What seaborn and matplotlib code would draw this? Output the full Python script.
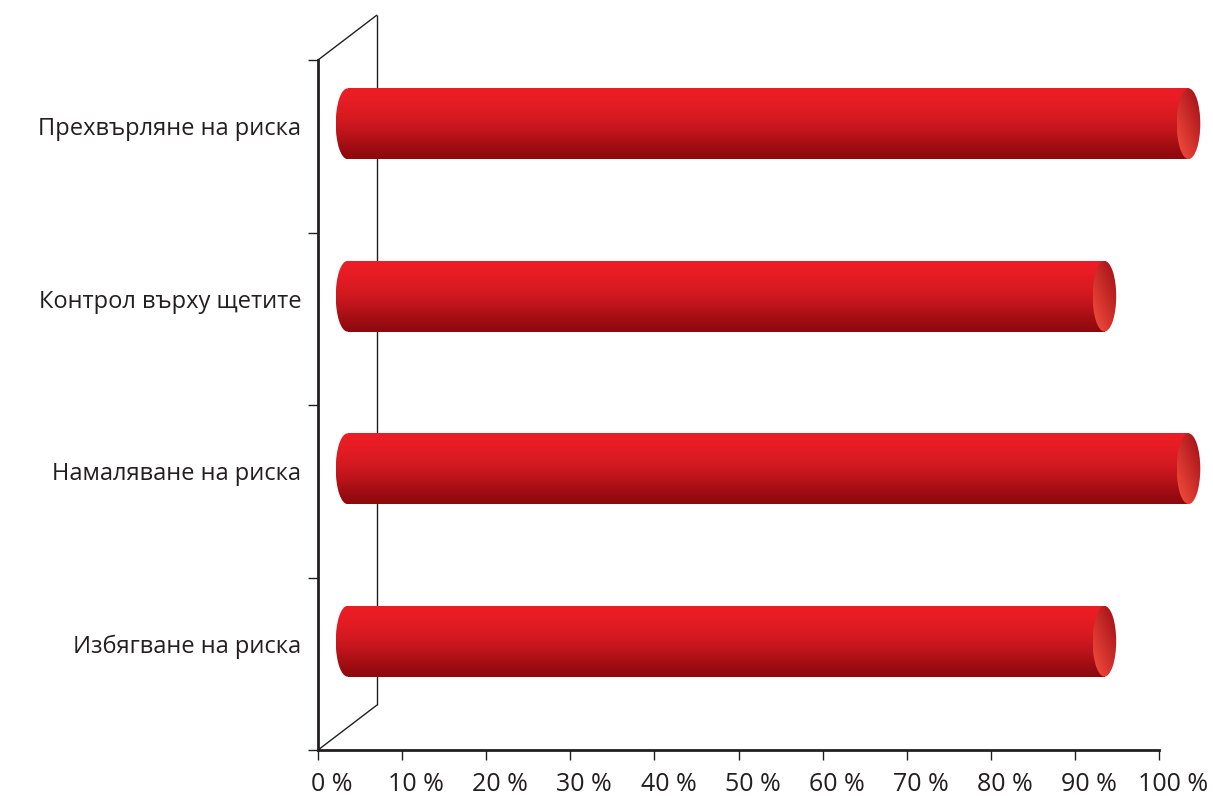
import numpy as np
import matplotlib
matplotlib.use("Agg")
import matplotlib.pyplot as plt
from matplotlib.patches import Ellipse
from matplotlib.colors import LinearSegmentedColormap, to_rgb
from matplotlib.transforms import ScaledTranslation
import seaborn as sns

# Chart data
categories = [
    "Прехвърляне на риска",
    "Контрол върху щетите",
    "Намаляване на риска",
    "Избягване на риска",
]
values = [100, 90, 100, 90]
x_ticks = list(range(0, 101, 10))
x_tick_labels = [f"{t} %" for t in x_ticks]

sns.set_theme(style="white")
plt.rcParams["font.family"] = ["Open Sans", "DejaVu Sans"]

TEXT = "#231F20"
DPI = 100
W, H = 1213, 796
X0_PX, X100_PX = 318, 1159
px_per_unit = (X100_PX - X0_PX) / 100.0
x_right = (W - X0_PX) / px_per_unit  # let the axes reach the right edge

fig = plt.figure(figsize=(W / DPI, H / DPI), dpi=DPI)
ax = fig.add_axes([X0_PX / W, 1 - 750 / H, (W - X0_PX) / W, (750 - 60) / H])

sns.barplot(x=values, y=categories, orient="h", width=0.41, ax=ax,
            color="#E31B23", saturation=1)

ax.set_xlim(0, x_right)
ax.set_ylim(3.5, -0.5)

# pseudo-3D depth of the chart floor (data units)
DX = 7.02
DY = 0.261
CAP_A = 1.4  # half-width of the cylinder end ellipses, x units

body_cmap = LinearSegmentedColormap.from_list(
    "body", ["#EE1D25", "#E61C24", "#D81A21", "#C1151C", "#A30E13", "#8C090D"])
grad = np.linspace(0, 1, 256).reshape(-1, 1)

dark = np.array(to_rgb("#A20E16"))
light = np.array(to_rgb("#F04A3B"))
n = 128
xx, yy = np.meshgrid(np.linspace(0, 1, n), np.linspace(0, 1, n))
t = np.clip(0.6 * yy + 0.55 * (1 - xx) - 0.05, 0, 1)[..., None]
cap_img = dark * (1 - t) + light * t

for patch in list(ax.patches):
    h = patch.get_height()
    y0 = patch.get_y() - DY / 2
    x0 = DX / 2
    w = patch.get_width()
    patch.set_x(x0)
    patch.set_y(y0)
    patch.set_facecolor("none")
    patch.set_edgecolor("none")
    x1 = x0 + w
    yc = y0 + h / 2

    # cylinder body
    im = ax.imshow(grad, cmap=body_cmap, aspect="auto", origin="upper",
                   extent=(x0 - CAP_A, x1, y0 + h, y0), zorder=3,
                   interpolation="bilinear")
    im.set_clip_path(patch)

    # rounded left end
    left = Ellipse((x0, yc), 2 * CAP_A, h, facecolor="none", edgecolor="none")
    ax.add_patch(left)
    im2 = ax.imshow(grad, cmap=body_cmap, aspect="auto", origin="upper",
                    extent=(x0 - CAP_A, x0 + CAP_A, y0 + h, y0), zorder=3,
                    interpolation="bilinear")
    im2.set_clip_path(left)

    # visible end cap
    right = Ellipse((x1, yc), 2 * CAP_A, h, facecolor="none", edgecolor="none")
    ax.add_patch(right)
    im3 = ax.imshow(cap_img, aspect="auto", origin="upper",
                    extent=(x1 - CAP_A, x1 + CAP_A, y0 + h, y0), zorder=4,
                    interpolation="bilinear")
    im3.set_clip_path(right)

ax.set_xlim(0, x_right)
ax.set_ylim(3.5, -0.5)

# back wall outline
wall_kw = dict(color=TEXT, lw=1.0, clip_on=False, zorder=2, solid_capstyle="butt")
ax.plot([0, DX], [-0.5, -0.5 - DY], **wall_kw)
ax.plot([DX, DX], [-0.5 - DY, 3.5 - DY], **wall_kw)
ax.plot([DX, 0], [3.5 - DY, 3.5], **wall_kw)

# spines
for side in ["top", "right"]:
    ax.spines[side].set_visible(False)
for side in ["left", "bottom"]:
    ax.spines[side].set_color(TEXT)
    ax.spines[side].set_linewidth(2.0)
    ax.spines[side].set_zorder(5)
ax.spines["bottom"].set_bounds(0, 100)

# x axis
ax.set_xticks(x_ticks)
ax.set_xticklabels(x_tick_labels)
ax.tick_params(axis="x", which="major", direction="out", length=7.5, width=1.0,
               color=TEXT, labelcolor=TEXT, labelsize=18, pad=8, bottom=True)
xshift = ScaledTranslation(14 / DPI, 0, fig.dpi_scale_trans)
for lab in ax.get_xticklabels():
    lab.set_transform(lab.get_transform() + xshift)

# y axis: labels at bar centres, ticks at category boundaries
ax.set_yticks(range(len(categories)))
ax.set_yticklabels(categories)
ax.set_yticks(np.arange(-0.5, len(categories), 1.0), minor=True)
ax.tick_params(axis="y", which="major", length=0, labelcolor=TEXT,
               labelsize=17, pad=12)
ax.tick_params(axis="y", which="minor", direction="out", length=7.5, width=1.0,
               color=TEXT, left=True)
shift = ScaledTranslation(0, 20 / DPI, fig.dpi_scale_trans)
for lab in ax.get_yticklabels():
    lab.set_transform(lab.get_transform() + shift)

ax.set_xlabel("")
ax.set_ylabel("")
ax.grid(False)
ax.set_facecolor("none")

fig.savefig("out.png", dpi=DPI)
